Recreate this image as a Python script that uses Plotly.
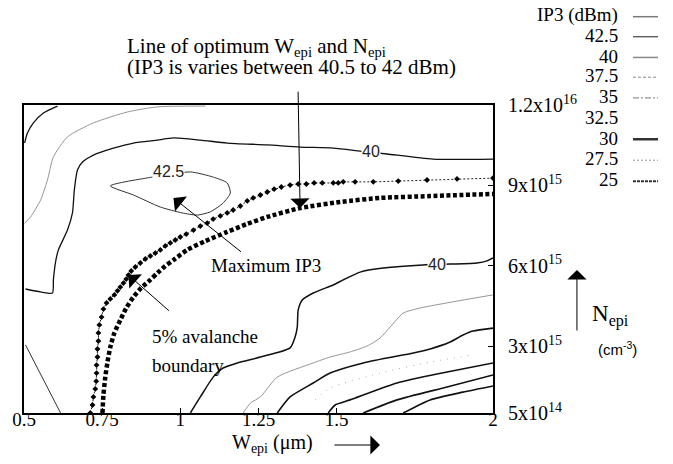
import plotly.graph_objects as go

# ---------------- data (W_epi in um, N_epi in units of 1e15 cm^-3) ----------------
c1_w = [0.607, 0.562, 0.530, 0.511, 0.502]
c1_n = [11.96, 11.70, 11.33, 10.95, 10.58]

c2_w = [1.080, 0.927, 0.831, 0.722, 0.639, 0.594, 0.575, 0.553, 0.521, 0.502]
c2_n = [11.96, 11.93, 11.74, 11.33, 10.81, 10.06, 9.20, 8.45, 7.82, 7.59]

c3_w = [0.505, 0.553, 0.591, 0.594, 0.601, 0.610, 0.639, 0.655, 0.661, 0.671, 0.687, 0.722,
        0.786, 0.850, 0.927, 0.978, 1.064, 1.150, 1.278, 1.383, 1.489, 1.575, 1.661, 1.808, 2.000]
c3_n = [5.13, 5.02, 4.98, 5.47, 6.14, 6.59, 7.33, 7.97, 8.83, 9.57, 9.87, 10.13,
        10.39, 10.58, 10.69, 10.77, 10.69, 10.58, 10.51, 10.43, 10.39, 10.28, 10.17, 9.98, 9.98]

c4_w = [0.776, 0.911, 1.032, 1.105, 1.150, 1.160, 1.137, 1.096, 1.054, 1.006, 0.936, 0.850, 0.776]
c4_n = [8.98, 9.31, 9.50, 9.31, 9.09, 8.71, 8.34, 8.01, 7.89, 7.97, 8.19, 8.64, 8.98]

c5_w = [0.505, 0.617]
c5_n = [3.04, 0.50]

c6_w = [1.032, 1.064, 1.105, 1.137, 1.182, 1.256, 1.351, 1.367, 1.374, 1.377, 1.390, 1.425,
        1.489, 1.521, 1.575, 1.649, 1.776, 1.863, 1.949, 1.981, 2.000]
c6_n = [0.50, 1.10, 1.84, 2.18, 2.37, 2.59, 2.93, 3.34, 3.71, 4.35, 4.72, 4.98,
        5.28, 5.47, 5.76, 5.91, 6.03, 6.06, 6.10, 6.18, 6.29]

c7_w = [1.201, 1.224, 1.256, 1.310, 1.425, 1.479, 1.543, 1.597, 1.639, 1.671, 1.713, 1.767, 2.000]
c7_n = [0.50, 0.87, 1.10, 1.84, 2.37, 2.59, 2.78, 3.00, 3.30, 3.71, 4.23, 4.42, 4.91]

c8_w = [1.310, 1.351, 1.425, 1.479, 1.585, 1.745, 1.799, 1.863, 1.904, 1.936, 2.000]
c8_n = [0.50, 1.10, 1.62, 1.99, 2.37, 2.74, 2.89, 3.15, 3.41, 3.56, 3.67]

c9_w = [1.431, 1.479, 1.639, 1.799, 1.936]
c9_n = [0.99, 1.43, 1.99, 2.40, 2.67]

c10_w = [1.473, 1.495, 1.543, 1.693, 1.853, 2.000]
c10_n = [0.50, 0.80, 0.99, 1.62, 2.03, 2.37]

c11_w = [1.585, 1.693, 1.853, 2.000]
c11_n = [0.50, 0.99, 1.47, 1.92]

c12_w = [1.713, 1.799, 1.904, 2.000]
c12_n = [0.50, 0.99, 1.28, 1.51]

opt_w = [0.712, 0.719, 0.722, 0.728, 0.731, 0.732, 0.732, 0.735, 0.735, 0.738, 0.738, 0.741,
         0.748, 0.754, 0.764, 0.776, 0.789, 0.799, 0.808, 0.818, 0.827, 0.834, 0.843, 0.856,
         0.872, 0.888, 0.904, 0.920, 0.936, 0.952, 0.968, 0.984, 1.000, 1.019, 1.042, 1.064,
         1.086, 1.105, 1.128, 1.150, 1.169, 1.192, 1.214, 1.233, 1.256, 1.278, 1.300, 1.323,
         1.351, 1.377, 1.403, 1.428, 1.454, 1.489, 1.505, 1.521, 1.559, 1.617, 1.697, 1.789,
         1.885, 2.000]
opt_n = [0.50, 0.80, 1.10, 1.40, 1.69, 1.99, 2.29, 2.59, 2.89, 3.19, 3.49, 3.79,
         4.08, 4.38, 4.61, 4.76, 4.91, 5.06, 5.20, 5.35, 5.50, 5.65, 5.80, 5.95,
         6.10, 6.25, 6.36, 6.47, 6.59, 6.74, 6.85, 6.96, 7.07, 7.18, 7.33, 7.48,
         7.59, 7.74, 7.86, 7.97, 8.08, 8.23, 8.42, 8.53, 8.64, 8.75, 8.86, 8.94,
         9.01, 9.05, 9.05, 9.09, 9.09, 9.09, 9.09, 9.13, 9.13, 9.13, 9.16, 9.20,
         9.24, 9.27]

aval_w = [0.751, 0.754, 0.760, 0.767, 0.776, 0.789, 0.808, 0.827, 0.850, 0.875, 0.904, 0.927,
          0.952, 0.978, 1.022, 1.080, 1.150, 1.214, 1.278, 1.383, 1.511, 1.639, 1.799, 2.000]
aval_n = [0.50, 1.17, 1.84, 2.40, 2.96, 3.49, 3.97, 4.42, 4.83, 5.17, 5.47, 5.73,
          5.99, 6.21, 6.59, 6.92, 7.26, 7.56, 7.82, 8.15, 8.38, 8.53, 8.60, 8.68]

x_tickvals = [0.5, 0.75, 1, 1.25, 1.5, 2]
x_ticktext = ["0.5", "0.75", "1", "1.25", "1.5", "2"]
y_tickvals = [0.5, 3, 6, 9, 12]
y_ticktext = ["5x10<sup>14</sup>", "3x10<sup>15</sup>", "6x10<sup>15</sup>",
              "9x10<sup>15</sup>", "1.2x10<sup>16</sup>"]

legend_labels = ["IP3 (dBm)", "42.5", "40", "37.5", "35", "32.5", "30", "27.5", "25"]

contour_labels = ["40", "42.5", "40"]
contour_label_w = [1.610, 0.962, 1.821]
contour_label_n = [10.25, 9.50, 6.06]

# ---------------- figure ----------------
SERIF = "'Liberation Serif', 'Times New Roman', serif"
SANS = "'Liberation Sans', Arial, sans-serif"
BLK = "#111111"
GRY = "#8a8a8a"

fig = go.Figure()

def add_line(w, n, color, width, dash="solid"):
    fig.add_trace(go.Scatter(x=w, y=n, mode="lines", hoverinfo="skip",
                             line=dict(color=color, width=width, dash=dash,
                                       shape="spline", smoothing=0.6),
                             showlegend=False))

add_line(c1_w, c1_n, BLK, 1.3)
add_line(c2_w, c2_n, GRY, 0.9)
add_line(c3_w, c3_n, BLK, 1.3)
add_line(c4_w, c4_n, "#333333", 1.0)
add_line(c5_w, c5_n, "#333333", 1.0)
add_line(c6_w, c6_n, BLK, 1.5)
add_line(c7_w, c7_n, GRY, 0.9)
add_line(c8_w, c8_n, BLK, 1.6)
add_line(c9_w, c9_n, "#aaaaaa", 1.0, "1px,6px")
add_line(c10_w, c10_n, BLK, 1.6)
add_line(c11_w, c11_n, BLK, 1.6)
add_line(c12_w, c12_n, BLK, 1.6)

# line of optimum W_epi and N_epi
fig.add_trace(go.Scatter(x=opt_w, y=opt_n, mode="lines+markers", hoverinfo="skip",
                         line=dict(color="#222222", width=1, dash="2px,2px"),
                         marker=dict(symbol="diamond", size=4.5, color="black"),
                         showlegend=False))
# 5% avalanche boundary
fig.add_trace(go.Scatter(x=aval_w, y=aval_n, mode="lines", hoverinfo="skip",
                         line=dict(color="black", width=4.5, dash="4px,2.5px",
                                   shape="spline", smoothing=0.6),
                         showlegend=False))

ann = []
# contour labels
for t, w, n in zip(contour_labels, contour_label_w, contour_label_n):
    ann.append(dict(x=w, y=n, xref="x", yref="y", text=t, showarrow=False,
                    xanchor="center", yanchor="middle",
                    font=dict(family=SANS, size=16, color="#222"), bgcolor="white",
                    borderpad=0))

def txt(x, y, text, size, xanchor="center", family=SERIF):
    return dict(x=x, y=y, xref="paper", yref="paper", xanchor=xanchor, yanchor="middle",
                text=text, showarrow=False, font=dict(family=family, size=size, color="black"))

ann += [
    txt(0.2154, 1.1883, "Line of optimum W<sub>epi</sub> and N<sub>epi</sub>", 21, "left"),
    txt(0.2154, 1.1234, "(IP3 is varies between 40.5 to 42 dBm)", 21, "left"),
    txt(0.516, 0.4805, "Maximum IP3", 19),
    txt(0.2687, 0.2468, "5% avalanche", 19, "left"),
    txt(0.2687, 0.1558, "boundary", 19, "left"),
    txt(0.5288, -0.098, "W<sub>epi</sub> (\u03bcm)", 20),
    txt(1.2068, 0.315, "N<sub>epi</sub>", 23, "left"),
    txt(1.2196, 0.211, "(cm<sup>-3</sup>)", 15, "left", SANS),
]

# arrows
arrow_style = dict(text="", showarrow=True, arrowhead=1, arrowsize=3.2, arrowwidth=1,
                   arrowcolor="black")
ann += [
    dict(x=1.383, y=8.15, xref="x", yref="y", ax=-2, ay=-118, **arrow_style),
    dict(x=0.978, y=8.53, xref="x", yref="y", ax=69, ay=55, **arrow_style),
    dict(x=0.834, y=5.65, xref="x", yref="y", ax=42, ay=37, **arrow_style),
    dict(x=0.759, y=-0.1039, xref="paper", yref="paper", ax=-47, ay=0, **arrow_style),
    dict(x=1.179, y=0.4643, xref="paper", yref="paper", ax=0, ay=62, **arrow_style),
]

# legend block (text right-aligned, line sample to the right)
legend_y = [1.2907, 1.2256, 1.1584, 1.0942, 1.0269, 0.9578, 0.8928, 0.8247, 0.7565]
legend_style = [
    ("#7a7a7a", 1.5, "solid"),
    ("#444444", 1.2, "solid"),
    ("#888888", 1.5, "solid"),
    ("#888888", 1.0, "3px,2px"),
    ("#777777", 1.0, "6px,2px,2px,2px"),
    None,
    ("#333333", 2.5, "solid"),
    ("#999999", 1.0, "2px,2px"),
    ("#333333", 2.0, "3px,1px"),
]
shapes = []
for lab, yy, st in zip(legend_labels, legend_y, legend_style):
    ann.append(txt(1.2708, yy, lab, 19, "right"))
    if st is not None:
        shapes.append(dict(type="line", xref="paper", yref="paper", x0=1.2985, x1=1.3518,
                           y0=yy - 0.004, y1=yy - 0.004,
                           line=dict(color=st[0], width=st[1], dash=st[2])))

fig.update_layout(
    width=673, height=464, autosize=False,
    margin=dict(l=24, r=180, t=105, b=51),
    paper_bgcolor="white", plot_bgcolor="white",
    showlegend=False,
    annotations=ann, shapes=shapes,
    xaxis=dict(range=[0.5, 2], tickvals=x_tickvals, ticktext=x_ticktext,
               showgrid=False, zeroline=False, showline=True, linecolor="black",
               linewidth=2, mirror=True, ticks="inside", ticklen=5, tickwidth=1.2,
               tickcolor="black", ticklabelstandoff=-12,
               tickfont=dict(family=SERIF, size=19, color="black")),
    yaxis=dict(range=[0.5, 12], side="right", tickvals=y_tickvals, ticktext=y_ticktext,
               showgrid=False, zeroline=False, showline=True, linecolor="black",
               linewidth=2, mirror=True, ticks="inside", ticklen=5, tickwidth=1.2,
               tickcolor="black", ticklabelstandoff=9,
               tickfont=dict(family=SERIF, size=20, color="black")),
)

fig.write_html("out.html")
